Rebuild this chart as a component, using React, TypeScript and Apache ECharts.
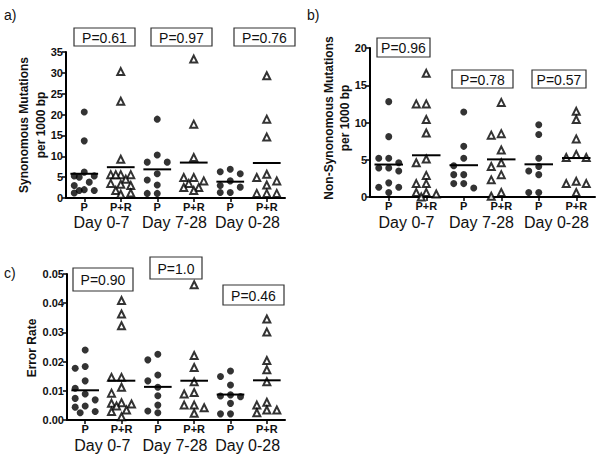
import React, { useEffect, useRef } from "react";
import * as echarts from "echarts";

// ---------- data ----------
const categories = ["P", "P+R", "P", "P+R", "P", "P+R"];
const dayLabels = ["Day 0-7", "Day 7-28", "Day 0-28"];

// a) Synonymous mutations per 1000 bp
const synP07 = [20.6, 13.7, 6.2, 5.3, 5.0, 5.3, 3.8, 3.0, 2.0, 1.8, 1.8, 1.2];
const synPR07 = [30.3, 23.2, 9.3, 5.6, 5.6, 5.6, 5.6, 4.5, 3.5, 3.0, 3.3, 1.8, 1.2, 0.9];
const synP728 = [18.9, 10.3, 8.6, 8.6, 5.8, 4.3, 3.1, 1.1, 1.1];
const synPR728 = [33.3, 17.7, 9.7, 4.9, 4.9, 4.1, 3.5, 2.5, 2.5, 1.8];
const synP028 = [6.9, 6.3, 5.8, 4.1, 3.0, 2.6, 1.3, 1.3];
const synPR028 = [29.3, 18.9, 14.6, 5.7, 4.9, 4.1, 3.1, 1.1, 1.1, 1.1];
const synPValues = ["P=0.61", "P=0.97", "P=0.76"];

// b) Non-synonymous mutations per 1000 bp
const nsP07 = [12.8, 8.1, 5.2, 5.2, 4.6, 3.9, 3.9, 3.5, 1.9, 1.3, 1.3, 0.6];
const nsPR07 = [16.6, 12.5, 12.5, 10.4, 8.6, 5.1, 4.6, 2.9, 1.8, 1.8, 0.6, 0.6, 0.4, 0];
const nsP728 = [11.4, 6.8, 5.2, 4.2, 3.0, 3.0, 1.8, 1.8, 1.2];
const nsPR728 = [12.7, 8.5, 8.3, 6.3, 4.6, 4.1, 3.0, 2.3, 0.6, 0.1];
const nsP028 = [9.7, 8.4, 5.2, 4.1, 3.5, 3.0, 0.6, 0.6];
const nsPR028 = [11.5, 10.4, 7.8, 5.7, 5.3, 5.3, 2.1, 1.8, 1.8, 0.6];
const nsPValues = ["P=0.96", "P=0.78", "P=0.57"];

// c) Error rate
const erP07 = [0.024, 0.0183, 0.0177, 0.0134, 0.0109, 0.0089, 0.0074, 0.0069, 0.0048, 0.0044, 0.0029, 0.0025];
const erPR07 = [0.0409, 0.0363, 0.0323, 0.0146, 0.0146, 0.0112, 0.0092, 0.0059, 0.0057, 0.0055, 0.0048, 0.0034, 0.0029, 0.0011];
const erP728 = [0.0225, 0.0206, 0.0154, 0.0134, 0.0112, 0.0083, 0.0051, 0.0031, 0.0025];
const erPR728 = [0.0463, 0.0221, 0.018, 0.0131, 0.0094, 0.0089, 0.0051, 0.0051, 0.0042, 0.0023];
const erP028 = [0.0168, 0.0149, 0.012, 0.0086, 0.008, 0.0082, 0.0057, 0.0021, 0.0021];
const erPR028 = [0.0346, 0.0301, 0.0204, 0.0172, 0.0131, 0.0061, 0.0051, 0.0034, 0.0034, 0.0025];
const erPValues = ["P=0.90", "P=1.0", "P=0.46"];

const synGroups = [synP07, synPR07, synP728, synPR728, synP028, synPR028];
const nsGroups = [nsP07, nsPR07, nsP728, nsPR728, nsP028, nsPR028];
const erGroups = [erP07, erPR07, erP728, erPR728, erP028, erPR028];

// ---------- layout ----------
const FONT = '"Liberation Sans", Arial, sans-serif';

const panels = [
  {
    letter: "a)", letterPos: [4, 15],
    groups: synGroups, pvals: synPValues,
    grid: { left: 66, top: 52, width: 219, height: 146 },
    yMax: 35, yInterval: 5, decimals: 0,
    titles: [
      { text: "Synonomous Mutations", x: 24, y: 125 },
      { text: "per 1000 bp", x: 41, y: 125 },
    ],
    boxes: [
      { x: 74, y: 28, w: 61, h: 18 },
      { x: 151, y: 28, w: 61, h: 18 },
      { x: 234, y: 28, w: 61, h: 18 },
    ],
    dayY: 222,
  },
  {
    letter: "b)", letterPos: [307, 15],
    groups: nsGroups, pvals: nsPValues,
    grid: { left: 370, top: 48, width: 225, height: 149 },
    yMax: 20, yInterval: 5, decimals: 0,
    titles: [
      { text: "Non-Synonomous Mutations", x: 329, y: 118 },
      { text: "per 1000 bp", x: 345, y: 118 },
    ],
    boxes: [
      { x: 377, y: 38, w: 53, h: 19 },
      { x: 452, y: 70, w: 61, h: 18 },
      { x: 532, y: 70, w: 54, h: 18 },
    ],
    dayY: 222,
  },
  {
    letter: "c)", letterPos: [4, 273],
    groups: erGroups, pvals: erPValues,
    grid: { left: 67, top: 274, width: 218, height: 146 },
    yMax: 0.05, yInterval: 0.01, decimals: 2,
    titles: [{ text: "Error Rate", x: 32, y: 348 }],
    boxes: [
      { x: 73, y: 268, w: 60, h: 23 },
      { x: 150, y: 257, w: 52, h: 22 },
      { x: 223, y: 285, w: 61, h: 20 },
    ],
    dayY: 445,
  },
];

// compact beeswarm-style horizontal spreading (pixel offsets), like GraphPad scatter
function swarm(values: number[], pxPerUnit: number, step = 10, minDist = 7.5): number[] {
  const order = values.map((_, i) => i).sort((a, b) => values[b] - values[a]);
  const placed: { x: number; y: number }[] = [];
  const off = new Array(values.length).fill(0);
  const cands = [0, -step, step, -step / 2, step / 2];
  for (const i of order) {
    const y = values[i] * pxPerUnit;
    let best = 0;
    let bestD = -1;
    for (const c of cands) {
      const d = placed.length
        ? Math.min(...placed.map((p) => Math.hypot(p.x - c, p.y - y)))
        : Infinity;
      if (d >= minDist) { best = c; bestD = d; break; }
      if (d > bestD) { bestD = d; best = c; }
    }
    off[i] = best;
    placed.push({ x: best, y });
  }
  return off;
}

const mean = (a: number[]) => a.reduce((s, v) => s + v, 0) / a.length;

function buildOption() {
  const grid: any[] = [];
  const xAxis: any[] = [];
  const yAxis: any[] = [];
  const series: any[] = [];
  const graphic: any[] = [];

  panels.forEach((p, pi) => {
    grid.push({ ...p.grid, containLabel: false });
    xAxis.push({
      type: "category",
      gridIndex: pi,
      data: categories,
      boundaryGap: true,
      axisLine: { show: true, onZero: false, lineStyle: { color: "#000", width: 2 } },
      axisTick: { show: true, alignWithLabel: true, length: 4, lineStyle: { color: "#000", width: 1.5 } },
      axisLabel: { color: "#111", fontFamily: FONT, fontWeight: "bold", fontSize: 11, margin: 3, lineHeight: 12 },
      splitLine: { show: false },
    });
    yAxis.push({
      type: "value",
      gridIndex: pi,
      min: 0,
      max: p.yMax,
      interval: p.yInterval,
      axisLine: { show: true, onZero: false, lineStyle: { color: "#000", width: 2 } },
      axisTick: { show: true, length: 4, lineStyle: { color: "#000", width: 1.5 } },
      axisLabel: {
        color: "#111", fontFamily: FONT, fontWeight: "bold", fontSize: 11, margin: 3,
        formatter: (v: number) => v.toFixed(p.decimals),
      },
      splitLine: { show: false },
    });
  });
  panels.forEach((p, pi) => {
    xAxis.push({
      type: "value", gridIndex: pi, min: -0.5, max: 5.5, show: false,
      axisLine: { onZero: false }, splitLine: { show: false },
    });
  });

  panels.forEach((p, pi) => {
    const pxPerUnit = p.grid.height / p.yMax;
    const catW = p.grid.width / categories.length;
    p.groups.forEach((vals, g) => {
      const offs = swarm(vals, pxPerUnit);
      const isTri = g % 2 === 1;
      series.push({
        type: "scatter",
        xAxisIndex: 3 + pi,
        yAxisIndex: pi,
        symbol: isTri ? "triangle" : "circle",
        symbolSize: 7,
        itemStyle: isTri
          ? { color: "#fff", borderColor: "#000", borderWidth: 2 }
          : { color: "#000" },
        data: vals.map((v, i) => [g + offs[i] / catW, v]),
        z: 3,
        silent: true,
      });
    });
    series.push({
      type: "custom",
      xAxisIndex: 3 + pi,
      yAxisIndex: pi,
      data: p.groups.map((vals, g) => [g, mean(vals)]),
      renderItem: (_params: any, api: any) => {
        const x = api.value(0);
        const y = api.value(1);
        const a = api.coord([x - 0.38, y]);
        const b = api.coord([x + 0.38, y]);
        return {
          type: "line",
          shape: { x1: a[0], y1: a[1], x2: b[0], y2: b[1] },
          style: { stroke: "#000", lineWidth: 2 },
        };
      },
      z: 4,
      silent: true,
    });

    // panel letter
    graphic.push({
      type: "text",
      style: {
        text: p.letter, x: p.letterPos[0], y: p.letterPos[1],
        fontFamily: FONT, fontSize: 14, fill: "#111",
        align: "left", verticalAlign: "middle",
      },
    });
    // axis titles
    p.titles.forEach((t) => {
      graphic.push({
        type: "text",
        x: t.x, y: t.y, rotation: Math.PI / 2,
        style: {
          text: t.text, x: 0, y: 0,
          fontFamily: FONT, fontSize: 12, fontWeight: "bold", fill: "#111",
          align: "center", verticalAlign: "middle",
        },
      });
    });
    // day labels
    dayLabels.forEach((d, k) => {
      graphic.push({
        type: "text",
        style: {
          text: d,
          x: p.grid.left + catW * (2 * k + 1) - 1,
          y: p.dayY,
          fontFamily: FONT, fontSize: 16, lineHeight: 16, fill: "#111",
          align: "center", verticalAlign: "middle",
        },
      });
    });
    // p-value boxes
    p.boxes.forEach((b, k) => {
      graphic.push({
        type: "rect",
        shape: { x: b.x, y: b.y, width: b.w, height: b.h },
        style: { fill: "#fff", stroke: "#333", lineWidth: 1.2 },
      });
      graphic.push({
        type: "text",
        style: {
          text: p.pvals[k], x: b.x + b.w / 2, y: b.y + b.h / 2 + 0.5,
          fontFamily: FONT, fontSize: 14, fill: "#111",
          align: "center", verticalAlign: "middle",
        },
      });
    });
  });

  return {
    animation: false,
    backgroundColor: "#fff",
    grid,
    xAxis,
    yAxis,
    series,
    graphic,
  };
}

export default function App() {
  const ref = useRef<HTMLDivElement>(null);
  useEffect(() => {
    if (!ref.current) return;
    const chart = echarts.init(ref.current, undefined, { renderer: "svg" });
    chart.setOption(buildOption() as any);
    return () => chart.dispose();
  }, []);
  return (
    <div
      ref={ref}
      style={{ position: "absolute", left: 0, top: 0, width: 600, height: 467, background: "#fff" }}
    />
  );
}
